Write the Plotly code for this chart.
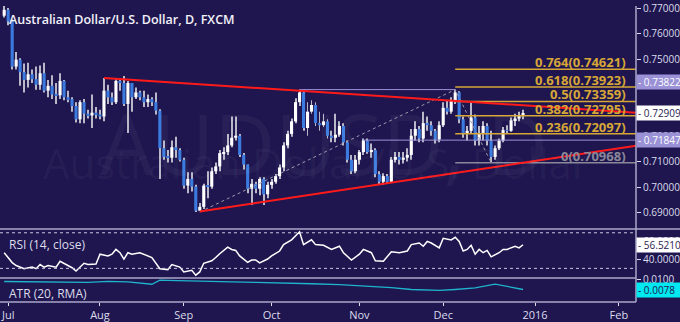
import plotly.graph_objects as go

# Daily AUD/USD candles; day 0 = 1 Jul 2015, weekends skipped.
day_index = list(range(-1, 130))

closes = [
    0.7694, 0.7649, 0.7472, 0.7499, 0.7450, 0.7420, 0.7442, 0.7423, 0.7401, 0.7446,
    0.7378, 0.7397, 0.7363, 0.7360, 0.7416, 0.7352, 0.7345, 0.7318, 0.7266, 0.7333,
    0.7288, 0.7281, 0.7292, 0.7285, 0.7277, 0.7378, 0.7352, 0.7333, 0.7416, 0.7408,
    0.7326, 0.7408, 0.7352, 0.7371, 0.7352, 0.7333, 0.7345, 0.7333, 0.7300, 0.7153,
    0.7119, 0.7116, 0.7157, 0.7146, 0.7108, 0.7007, 0.7033, 0.7003, 0.6909, 0.6924,
    0.7007, 0.7003, 0.7063, 0.7082, 0.7134, 0.7138, 0.7164, 0.7194, 0.7202, 0.7127,
    0.7089, 0.6995, 0.7014, 0.6995, 0.7033, 0.6973, 0.7010, 0.7022, 0.7044, 0.7078,
    0.7164, 0.7209, 0.7258, 0.7333, 0.7371, 0.7232, 0.7296, 0.7322, 0.7251, 0.7243,
    0.7258, 0.7202, 0.7194, 0.7206, 0.7240, 0.7176, 0.7108, 0.7063, 0.7108, 0.7138,
    0.7183, 0.7138, 0.7146, 0.7052, 0.7022, 0.7044, 0.7022, 0.7108, 0.7119, 0.7108,
    0.7116, 0.7127, 0.7202, 0.7228, 0.7191, 0.7251, 0.7243, 0.7221, 0.7187, 0.7243,
    0.7311, 0.7296, 0.7337, 0.7371, 0.7266, 0.7209, 0.7221, 0.7273, 0.7183, 0.7213,
    0.7240, 0.7183, 0.7119, 0.7153, 0.7183, 0.7224, 0.7221, 0.7262, 0.7269, 0.7281,
    0.72909,
]
highs = [
    0.7712, 0.7701, 0.7656, 0.7529, 0.7505, 0.7484, 0.7487, 0.7461, 0.7472, 0.7476,
    0.7487, 0.7420, 0.7438, 0.7408, 0.7446, 0.7420, 0.7378, 0.7352, 0.7333, 0.7341,
    0.7345, 0.7303, 0.7363, 0.7314, 0.7303, 0.7427, 0.7401, 0.7371, 0.7423, 0.7423,
    0.7435, 0.7416, 0.7408, 0.7390, 0.7378, 0.7378, 0.7363, 0.7352, 0.7371, 0.7305,
    0.7183, 0.7146, 0.7183, 0.7198, 0.7153, 0.7116, 0.7059, 0.7059, 0.7010, 0.6939,
    0.7014, 0.7063, 0.7078, 0.7097, 0.7146, 0.7157, 0.7209, 0.7277, 0.7277, 0.7209,
    0.7134, 0.7089, 0.7033, 0.7022, 0.7040, 0.7040, 0.7022, 0.7033, 0.7052, 0.7089,
    0.7176, 0.7221, 0.7269, 0.7348, 0.73822, 0.7378, 0.7333, 0.7341, 0.7333, 0.7296,
    0.7288, 0.7266, 0.7221, 0.7288, 0.7258, 0.7251, 0.7183, 0.7127, 0.7127, 0.7146,
    0.7191, 0.7191, 0.7172, 0.7153, 0.7063, 0.7055, 0.7052, 0.7119, 0.7138, 0.7138,
    0.7138, 0.7153, 0.7228, 0.7258, 0.7240, 0.7296, 0.7277, 0.7258, 0.7228, 0.7258,
    0.7333, 0.7341, 0.7352, 0.73822, 0.7376, 0.7277, 0.7240, 0.7333, 0.7285, 0.7240,
    0.7258, 0.7251, 0.7221, 0.7164, 0.7191, 0.7236, 0.7243, 0.7273, 0.7288, 0.7296,
    0.7303,
]
lows = [
    0.7664, 0.7634, 0.7461, 0.7461, 0.7397, 0.7371, 0.7390, 0.7408, 0.7382, 0.7382,
    0.7371, 0.7352, 0.7345, 0.7326, 0.7345, 0.7341, 0.7333, 0.7296, 0.7254, 0.7251,
    0.7251, 0.7269, 0.7232, 0.7269, 0.7266, 0.7258, 0.7326, 0.7322, 0.7326, 0.7378,
    0.7318, 0.7213, 0.7296, 0.7345, 0.7341, 0.7314, 0.7314, 0.7318, 0.7285, 0.7033,
    0.7108, 0.7097, 0.7097, 0.7116, 0.7101, 0.6995, 0.6977, 0.6984, 0.69038, 0.6909,
    0.6916, 0.6958, 0.6995, 0.7052, 0.7063, 0.7108, 0.7127, 0.7157, 0.7183, 0.7119,
    0.7070, 0.6977, 0.6931, 0.6977, 0.6969, 0.6931, 0.6958, 0.6995, 0.7014, 0.7033,
    0.7063, 0.7153, 0.7198, 0.7251, 0.7318, 0.7221, 0.7202, 0.7288, 0.7240, 0.7221,
    0.7236, 0.7191, 0.7176, 0.7176, 0.7198, 0.7164, 0.7097, 0.7052, 0.7055, 0.7089,
    0.7127, 0.7131, 0.7116, 0.7040, 0.7010, 0.7010, 0.7014, 0.7018, 0.7097, 0.7089,
    0.7093, 0.7101, 0.7108, 0.7183, 0.7176, 0.7176, 0.7221, 0.7202, 0.7172, 0.7176,
    0.7236, 0.7285, 0.7288, 0.7326, 0.7251, 0.7194, 0.7183, 0.7209, 0.7164, 0.7164,
    0.7183, 0.7164, 0.70968, 0.7108, 0.7146, 0.7176, 0.7209, 0.7217, 0.7240, 0.7258,
    0.7266,
]
first_open = 0.7671
opens = [first_open] + closes[:-1]

# RSI(14, close) and ATR(20, RMA) readings by day
rsi_days = [-1, 0, 1, 2, 4, 6, 7, 8, 9, 10, 12, 13, 15, 16, 17, 19, 20, 22, 23, 25,
            26, 27, 28, 29, 30, 31, 33, 34, 35, 36, 38, 40, 41, 43, 44, 46, 47, 48, 49, 51,
            52, 53, 55, 56, 57, 58, 60, 61, 62, 63, 65, 66, 68, 69, 71, 72, 73, 74, 76, 77,
            79, 81, 82, 83, 84, 86, 88, 89, 91, 92, 94, 96, 98, 100, 101, 103, 104, 105, 106, 108,
            109, 111, 112, 113, 114, 115, 116, 117, 118, 119, 120, 121, 123, 124, 125, 127, 128, 129]
rsi_vals = [47.6, 42.0, 36.5, 33.2, 29.6, 31.4, 29.6, 34.3, 31.4, 33.2, 31.4, 37.9, 33.2, 30.7, 27.0, 35.7, 34.3, 34.9, 45.9, 44.0,
            45.9, 51.3, 47.6, 40.5, 47.6, 45.9, 47.6, 45.9, 44.0, 42.2, 29.6, 28.6, 34.3, 31.4, 26.0, 27.8, 22.4, 26.0, 35.7, 38.6,
            42.2, 46.5, 53.8, 51.3, 50.2, 44.0, 36.8, 39.4, 39.4, 36.1, 40.5, 44.0, 49.5, 56.7, 62.1, 66.8, 71.1, 56.7, 62.1, 56.7,
            55.9, 51.3, 53.0, 54.9, 47.6, 39.4, 45.9, 51.3, 47.6, 38.6, 37.9, 48.7, 47.6, 49.5, 56.7, 58.5, 54.9, 60.3, 58.5, 53.0,
            63.8, 62.0, 64.9, 60.3, 49.5, 51.3, 55.9, 45.9, 51.3, 47.6, 50.2, 43.0, 47.6, 51.3, 51.3, 54.9, 53.0, 56.521]

atr_days = [-1, 5, 10, 15, 20, 25, 30, 36, 38, 40, 44, 50, 56, 62, 69, 76, 83, 91, 96, 101, 108, 112, 117, 122, 129]
atr_vals = [0.00963, 0.00956, 0.00967, 0.00956, 0.00945, 0.00967, 0.00956, 0.00901, 0.00993, 0.00989,
            0.00985, 0.00967, 0.00956, 0.00945, 0.00934, 0.00912, 0.00890, 0.00853, 0.00824, 0.00780,
            0.00758, 0.00780, 0.00817, 0.00905, 0.00780]

month_days = [0, 23, 44, 66, 88, 109, 132, 153]
month_labels = ["Jul", "Aug", "Sep", "Oct", "Nov", "Dec", "2016", "Feb"]

price_ticks = [0.69, 0.70, 0.71, 0.72, 0.73, 0.74, 0.75, 0.76, 0.77]

fib_ratios = ["0.764", "0.618", "0.5", "0.382", "0.236", "0"]
fib_prices = [0.74621, 0.73923, 0.73359, 0.72795, 0.72097, 0.70968]
fib_start_day = 112

resist_days = [24, 157.3]
resist_prices = [0.7427, 0.7292]
support_days = [48, 157.3]
support_prices = [0.6906, 0.7163]
swing_days = [48, 112, 121]
swing_prices = [0.69038, 0.73822, 0.70968]

marker_levels = [0.73822, 0.71847]
marker_start_days = [73, 89]
marker_end_days = [112, 157.3]

last_close = 0.72909
last_rsi = 56.5210
last_atr = 0.0078

# ---- styling ----
BG = "#1f1650"
UP = "#ffffff"
DOWN = "#3b7be0"
WICK = "#b8b8c8"
GOLD = "#d6a737"
GREY_FIB = "#8a8898"
LAV = "#9a91d6"
TXT = "#dcdcea"
SEP = "#aaa7c8"
FONT = "Open Sans"

X_MIN, X_MAX = -2.05, 157.3
PRICE_RANGE = [0.68376, 0.77088]
RSI_RANGE = [19.2, 74.3]
ATR_RANGE = [0.00494, 0.01044]

PLOT_H = 308.0
def py(px):
    """pixel row inside the plot area -> paper fraction"""
    return (PLOT_H - px) / PLOT_H

fig = go.Figure()

# candle wicks
fig.add_trace(go.Bar(
    x=day_index, base=lows, y=[h - l for h, l in zip(highs, lows)],
    width=0.24, marker=dict(color=WICK, line=dict(width=0)), yaxis="y", hoverinfo="skip"))

# candle bodies
up_x, up_b, up_h, dn_x, dn_b, dn_h = [], [], [], [], [], []
for d, o, c in zip(day_index, opens, closes):
    b = min(o, c)
    h = max(abs(c - o), 0.00012)
    if c >= o:
        up_x.append(d); up_b.append(b); up_h.append(h)
    else:
        dn_x.append(d); dn_b.append(b); dn_h.append(h)
fig.add_trace(go.Bar(x=up_x, base=up_b, y=up_h, width=0.78,
                     marker=dict(color=UP, line=dict(width=0)), yaxis="y", hoverinfo="skip"))
fig.add_trace(go.Bar(x=dn_x, base=dn_b, y=dn_h, width=0.78,
                     marker=dict(color=DOWN, line=dict(width=0)), yaxis="y", hoverinfo="skip"))

# swing path (dotted)
fig.add_trace(go.Scatter(x=swing_days, y=swing_prices, mode="lines",
                         line=dict(color="#9a98ac", width=1, dash="dot"), yaxis="y", hoverinfo="skip"))

# horizontal level markers
for lvl, s, e in zip(marker_levels, marker_start_days, marker_end_days):
    fig.add_trace(go.Scatter(x=[s, e], y=[lvl, lvl], mode="lines",
                             line=dict(color=LAV, width=1), yaxis="y", hoverinfo="skip"))

# fibonacci levels
for r, p in zip(fib_ratios, fib_prices):
    col = GREY_FIB if r == "0" else GOLD
    fig.add_trace(go.Scatter(x=[fib_start_day, X_MAX], y=[p, p], mode="lines",
                             line=dict(color=col, width=1.5), yaxis="y", hoverinfo="skip"))

# trend lines
fig.add_trace(go.Scatter(x=resist_days, y=resist_prices, mode="lines",
                         line=dict(color="#ff1a1a", width=2), yaxis="y", hoverinfo="skip"))
fig.add_trace(go.Scatter(x=support_days, y=support_prices, mode="lines",
                         line=dict(color="#ff1a1a", width=2), yaxis="y", hoverinfo="skip"))

# RSI and ATR
fig.add_trace(go.Scatter(x=rsi_days, y=rsi_vals, mode="lines",
                         line=dict(color="#ffffff", width=1.5), yaxis="y2", hoverinfo="skip"))
fig.add_trace(go.Scatter(x=atr_days, y=atr_vals, mode="lines",
                         line=dict(color="#1fb3cc", width=1.3), yaxis="y3", hoverinfo="skip"))

annotations = []
# watermark
annotations.append(dict(text="AUDUSD, D", xref="paper", yref="paper", x=0.51, y=py(80),
                        showarrow=False, font=dict(family=FONT, size=84, color="rgba(255,255,255,0.04)")))
annotations.append(dict(text="Australian Dollar/U.S. Dollar", xref="paper", yref="paper", x=0.497, y=py(163),
                        showarrow=False, font=dict(family=FONT, size=42, color="rgba(255,255,255,0.04)")))
# title and pane labels
annotations.append(dict(text="Australian Dollar/U.S. Dollar, D, FXCM", xref="paper", yref="paper",
                        x=0.011, y=py(14), xanchor="left", yanchor="middle", showarrow=False,
                        font=dict(family=FONT, size=12.5, color="#f2f2f8", weight=600)))
annotations.append(dict(text="RSI (14, close)", xref="paper", yref="paper", x=0.011, y=py(248),
                        xanchor="left", yanchor="middle", showarrow=False,
                        font=dict(family=FONT, size=12, color=TXT)))
annotations.append(dict(text="ATR (20, RMA)", xref="paper", yref="paper", x=0.011, y=py(299),
                        xanchor="left", yanchor="middle", showarrow=False,
                        font=dict(family=FONT, size=12, color=TXT)))
# fib labels
for r, p in zip(fib_ratios, fib_prices):
    col = GREY_FIB if r == "0" else GOLD
    annotations.append(dict(text=f"{r}({p:.5f})", xref="paper", yref="y", x=628 / 636, y=p,
                            xanchor="right", yanchor="middle", yshift=7, showarrow=False,
                            font=dict(family=FONT, size=13, color=col, weight="bold")))
# axis value boxes
def value_box(val, txt, yref, bg, fg, shift=0):
    return dict(text=txt, xref="paper", yref=yref, x=1, y=val, xanchor="left", yanchor="middle",
                yshift=shift, showarrow=False, bgcolor=bg, width=46, height=12, align="left",
                borderpad=1, font=dict(family=FONT, size=10, color=fg))
annotations.append(value_box(marker_levels[0], "- %.5f" % marker_levels[0], "y", LAV, "#ffffff", shift=8))
annotations.append(value_box(last_close, "- %.5f" % last_close, "y", "#ffffff", "#2a2450"))
annotations.append(value_box(marker_levels[1], "- %.5f" % marker_levels[1], "y", LAV, "#ffffff"))
annotations.append(value_box(last_rsi, "- %.4f" % last_rsi, "y2", "#ffffff", "#2a2450"))
annotations.append(value_box(last_atr, "- %.4f" % last_atr, "y3", "#00e8f0", "#1f1650"))

shapes = [
    dict(type="line", xref="paper", yref="y2", x0=0, x1=1, y0=70, y1=70,
         line=dict(color="#c8c6dc", width=1, dash="3px,3px")),
    dict(type="line", xref="paper", yref="y2", x0=0, x1=1, y0=30, y1=30,
         line=dict(color="#c8c6dc", width=1, dash="3px,3px")),
    dict(type="line", xref="paper", yref="paper", x0=0, x1=680 / 636, y0=py(232), y1=py(232),
         line=dict(color=SEP, width=1.5)),
    dict(type="line", xref="paper", yref="paper", x0=0, x1=1, y0=py(283), y1=py(283),
         line=dict(color=SEP, width=1.5)),
    dict(type="line", xref="paper", yref="paper", x0=0, x1=1, y0=0, y1=0,
         line=dict(color=SEP, width=1.5)),
    dict(type="line", xref="paper", yref="paper", x0=1, x1=1, y0=0, y1=1,
         line=dict(color=SEP, width=1.5)),
]

axis_common = dict(showgrid=False, zeroline=False, showline=False, side="right", anchor="x",
                   ticks="outside", ticklen=4, tickcolor=TXT, ticklabeloverflow="allow",
                   tickfont=dict(family=FONT, size=10, color=TXT), fixedrange=True)

fig.update_layout(
    width=680, height=322,
    margin=dict(l=0, r=44, t=0, b=14),
    paper_bgcolor=BG, plot_bgcolor=BG,
    barmode="overlay", showlegend=False,
    xaxis=dict(range=[X_MIN, X_MAX], domain=[0, 1], anchor="y3",
               tickvals=month_days, ticktext=month_labels,
               ticks="outside", ticklen=3, tickcolor=TXT,
               tickfont=dict(family=FONT, size=11, color=TXT),
               showgrid=False, zeroline=False, showline=False, fixedrange=True),
    yaxis=dict(domain=[py(232), 1], range=PRICE_RANGE,
               tickvals=price_ticks, ticktext=["%.5f" % t for t in price_ticks], **axis_common),
    yaxis2=dict(domain=[py(283), py(232)], range=RSI_RANGE,
                tickvals=[40, 60], ticktext=["40.0000", "60.0000"], **axis_common),
    yaxis3=dict(domain=[0, py(283)], range=ATR_RANGE,
                tickvals=[0.01], ticktext=["0.0100"], **axis_common),
    annotations=annotations,
    shapes=shapes,
)

fig.write_html("out.html")
